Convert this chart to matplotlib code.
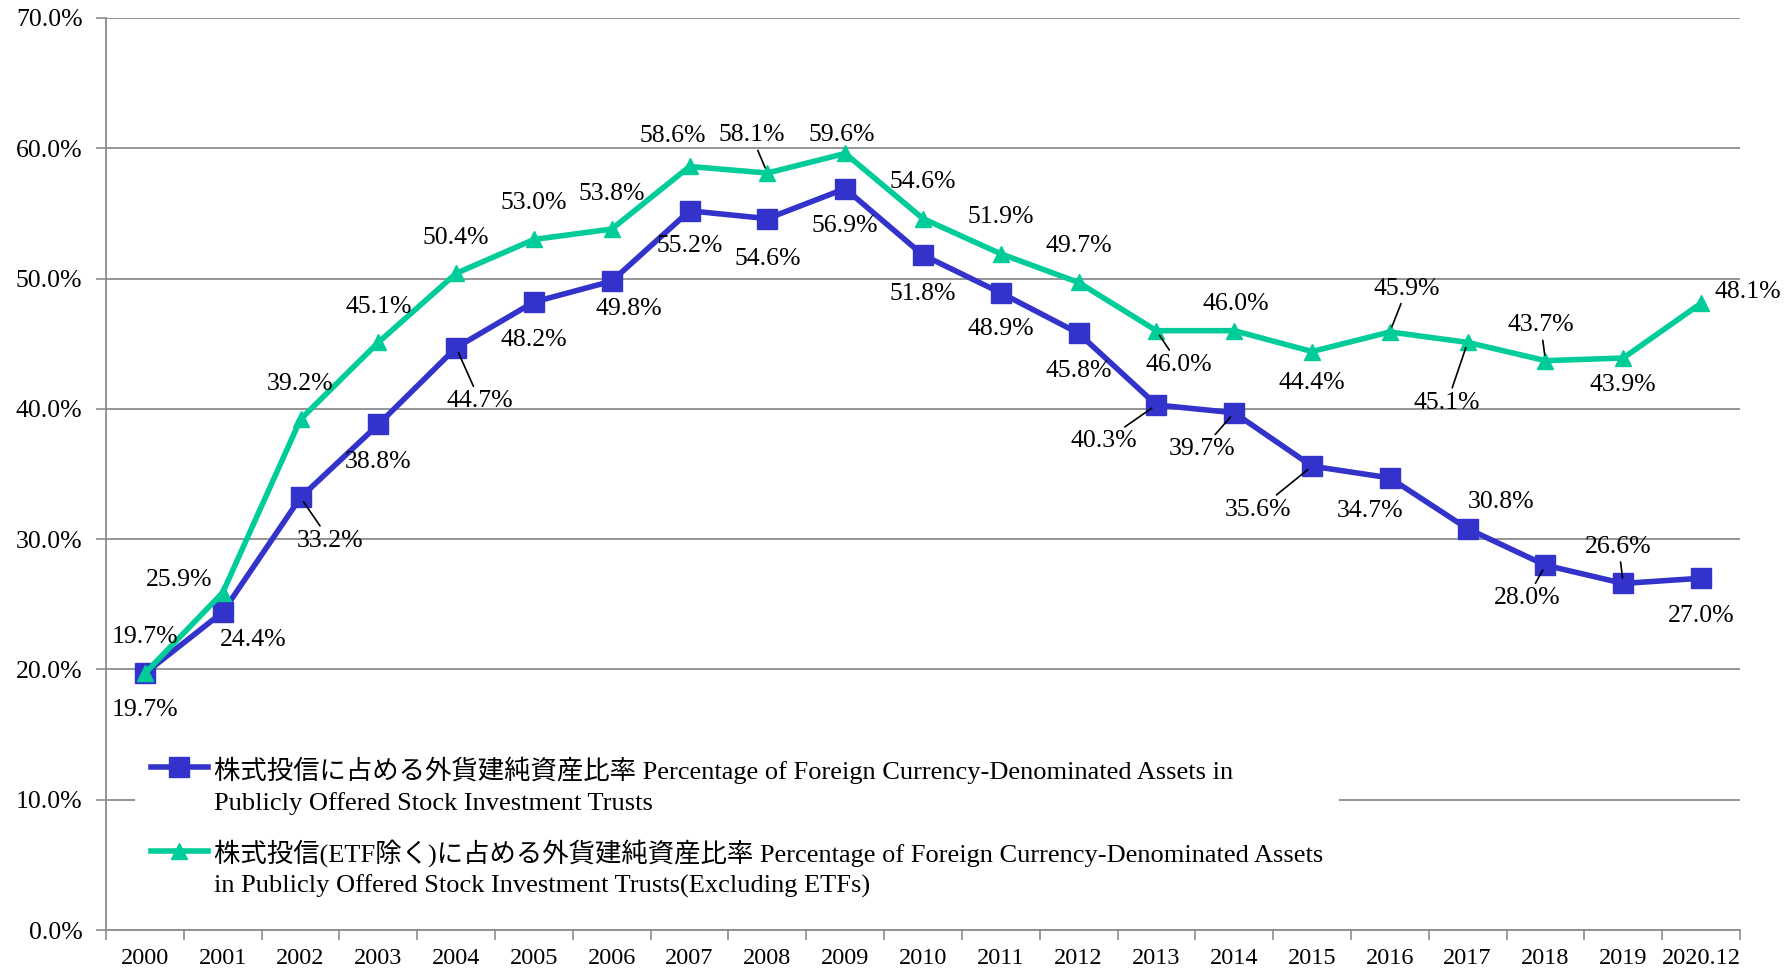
import numpy as np
import matplotlib
matplotlib.use('Agg')
import matplotlib.pyplot as plt
from matplotlib.legend_handler import HandlerLine2D
from matplotlib.ticker import FixedLocator, FuncFormatter

plt.rcParams['font.family'] = ['Liberation Serif', 'Noto Sans CJK JP']

# --- data ---
years = ['2000', '2001', '2002', '2003', '2004', '2005', '2006', '2007', '2008', '2009',
         '2010', '2011', '2012', '2013', '2014', '2015', '2016', '2017', '2018', '2019',
         '2020.12']
stock_ratio = [19.7, 24.4, 33.2, 38.8, 44.7, 48.2, 49.8, 55.2, 54.6, 56.9,
               51.8, 48.9, 45.8, 40.3, 39.7, 35.6, 34.7, 30.8, 28.0, 26.6, 27.0]
stock_ex_etf_ratio = [19.7, 25.9, 39.2, 45.1, 50.4, 53.0, 53.8, 58.6, 58.1, 59.6,
                      54.6, 51.9, 49.7, 46.0, 46.0, 44.4, 45.9, 45.1, 43.7, 43.9, 48.1]

label_blue = ('株式投信に占める外貨建純資産比率 Percentage of Foreign Currency-Denominated Assets in\n'
              'Publicly Offered Stock Investment Trusts')
label_green = ('株式投信(ETF除く)に占める外貨建純資産比率 Percentage of Foreign Currency-Denominated Assets\n'
               'in Publicly Offered Stock Investment Trusts(Excluding ETFs)')

# label offsets (dx right, dy down, in reference pixels) and leader-line flag
blue_offsets = [(0, 32, 0), (27, 24, 0), (26, 38, 1), (0, 33, 0), (21, 47, 1), (0, 33, 0),
                (15, 24, 0), (0, 31, 0), (0, 35, 0), (0, 33, 0), (0, 34, 0), (0, 32, 0),
                (0, 33, 0), (-46, 32, 1), (-28, 32, 1), (-47, 38, 1), (-17, 29, 0),
                (29, -23, 0), (-16, 29, 1), (-4, -32, 1), (0, 33, 0)]
green_offsets = [(0, -32, 0), (-38, -11, 0), (0, -31, 0), (0, -31, 0), (0, -31, 0), (0, -32, 0),
                 (0, -31, 0), (-15, -27, 0), (-14, -33, 1), (-3, -16, 0), (0, -32, 0),
                 (0, -32, 0), (0, -32, 0), (20, 30, 1), (1, -23, 0), (0, 28, 0),
                 (15, -38, 1), (-18, 53, 1), (-4, -31, 1), (0, 24, 0), (41, -10, 0)]

blue = '#3333CC'
green = '#00CC99'
grid_c = '#8C8C8C'
S = 1791 / 1568
FS = 18.5      # data labels / y ticks
FS_X = 17.5    # x tick labels
FS_LEG = 19    # legend


class UpHandler(HandlerLine2D):
    """Legend handle aligned with the first text line."""
    def create_artists(self, legend, orig_handle, xdescent, ydescent, width,
                       height, fontsize, trans):
        arts = super().create_artists(legend, orig_handle, xdescent, ydescent,
                                      width, height, fontsize, trans)
        for a in arts:
            a.set_ydata(np.asarray(a.get_ydata()) + 12.5)
        return arts


fig = plt.figure(figsize=(17.91, 9.71), dpi=100)
ax = fig.add_axes([0.0592, 0.0422, 0.9123, 0.9393])

x = np.arange(len(years))
ax.plot(x, stock_ratio, '-s', color=blue, lw=4, ms=14.5, zorder=3, label=label_blue)
ax.plot(x, stock_ex_etf_ratio, '-^', color=green, lw=4, ms=11.5, zorder=4, label=label_green)


def add_labels(vals, offsets):
    for i, (v, (dx, dy, lead)) in enumerate(zip(vals, offsets)):
        kw = {}
        if lead:
            kw['arrowprops'] = dict(arrowstyle='-', color='black', lw=1.2,
                                    shrinkA=1, shrinkB=4)
        ax.annotate(f'{v:.1f}%', xy=(i, v), xytext=(dx * S, -dy * S),
                    textcoords='offset pixels', ha='center', va='center',
                    fontsize=FS, color='black', zorder=6, **kw)


add_labels(stock_ratio, blue_offsets)
add_labels(stock_ex_etf_ratio, green_offsets)

ax.set_xlim(-0.5, len(years) - 0.5)
ax.set_ylim(0, 70)
ax.yaxis.set_major_locator(FixedLocator(np.arange(0, 71, 10)))
ax.yaxis.set_major_formatter(FuncFormatter(lambda v, p: f'{v:.1f}%'))
ax.grid(axis='y', color=grid_c, lw=1.3)
ax.set_axisbelow(True)

ax.set_xticks(np.arange(-0.5, len(years), 1.0))
ax.set_xticklabels([])
ax.set_xticks(x, minor=True)
ax.set_xticklabels(years, minor=True)
ax.tick_params(axis='x', which='major', length=7, color=grid_c, width=1.2, direction='out')
ax.tick_params(axis='x', which='minor', length=0, pad=13, labelsize=FS_X)
ax.tick_params(axis='y', length=7, color=grid_c, width=1.2, pad=10, labelsize=FS)

for s in ['top', 'right']:
    ax.spines[s].set_visible(False)
for s in ['left', 'bottom']:
    ax.spines[s].set_color(grid_c)
    ax.spines[s].set_linewidth(1.3)

leg = ax.legend(loc='upper left', bbox_to_anchor=(0.0177, 0.208), borderaxespad=0,
                fontsize=FS_LEG, frameon=True, facecolor='white', edgecolor='none',
                framealpha=1, fancybox=False, borderpad=0.6, handlelength=2.15,
                handletextpad=0.25, labelspacing=0.92,
                handler_map={plt.Line2D: UpHandler()})
for t in leg.get_texts():
    t.set_linespacing(1.45)
leg.set_zorder(5)

fig.savefig('out.png', dpi=100)
